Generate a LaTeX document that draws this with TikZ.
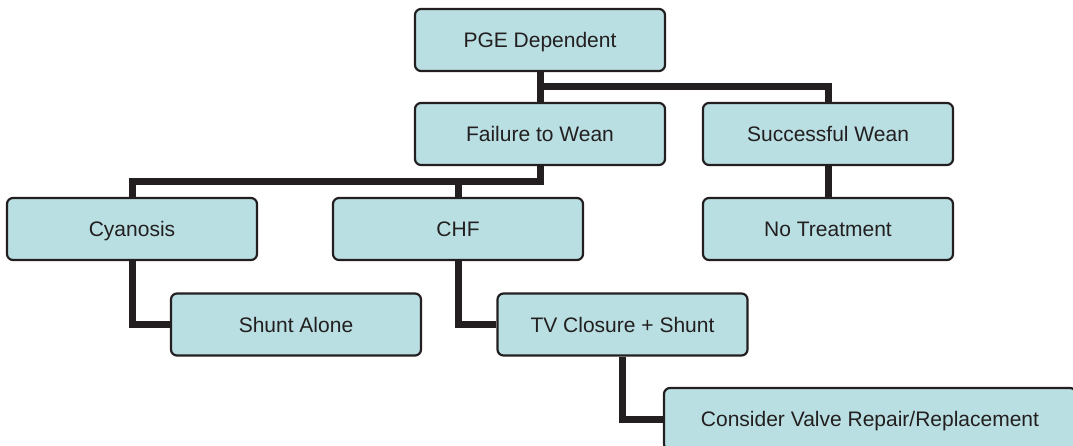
\documentclass[tikz,border=0pt]{standalone}
\usepackage{fontspec}
\setmainfont{Liberation Sans}
\usetikzlibrary{backgrounds}
\definecolor{boxfill}{RGB}{185,223,226}
\definecolor{ink}{RGB}{35,31,32}
\begin{document}
\begin{tikzpicture}[x=1pt,y=-1pt,
  box/.style={draw=ink, line width=2.2pt, fill=boxfill, rounded corners=6pt,
    minimum width=250pt, minimum height=62pt, inner sep=0pt,
    text height=15pt, text depth=0pt,
    font=\fontsize{21}{25}\selectfont, text=ink},
  link/.style={draw=ink, line width=7pt}]
\useasboundingbox (0,0) rectangle (1073,446);
\node[box] (pge) at (540,40) {PGE Dependent};
\node[box] (fail) at (540,134) {Failure to Wean};
\node[box] (succ) at (828,134) {Successful Wean};
\node[box] (cyan) at (132,229) {Cyanosis};
\node[box] (chf) at (458,229) {CHF};
\node[box] (not) at (828,229) {No Treatment};
\node[box] (shunt) at (296,324.5) {Shunt Alone};
\node[box] (tv) at (622.5,324.5) {TV Closure + Shunt};
\node[box, minimum width=412pt] (cons) at (870,419) {Consider Valve Repair/Replacement};
\begin{pgfonlayer}{background}
\coordinate (j1) at (540,87);
\coordinate (j2) at (540,182);
\draw[link] (pge) -- (fail);
\draw[link] (j1) -| (succ.north);
\draw[link] (fail.south) -- (j2) -| (cyan.north);
\draw[link] (chf.north |- j2) -- (chf.north);
\draw[link] (succ) -- (not);
\draw[link] (cyan.south) |- (shunt.west);
\draw[link] (chf.south) |- (tv.west);
\draw[link] (tv.south) |- (cons.west);
\end{pgfonlayer}
\end{tikzpicture}
\end{document}
